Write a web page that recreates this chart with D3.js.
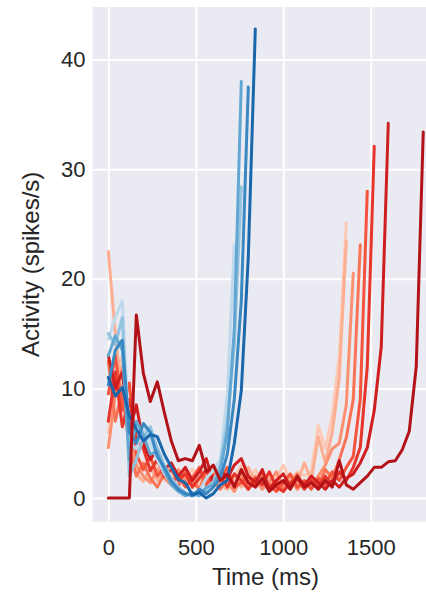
<!DOCTYPE html>
<html>
<head>
<meta charset="utf-8">
<script src="https://cdn.jsdelivr.net/npm/d3@7"></script>
<style>
  html, body { margin: 0; padding: 0; background: #ffffff; }
  svg { display: block; }
  text { font-family: "Liberation Sans", Arial, sans-serif; fill: #262626; }
</style>
</head>
<body>
<svg id="chart" width="426" height="592"></svg>
<script>
// Sample times (ms), shared by every trial; each trial uses the leading part.
const times = [0, 40, 80, 120, 160, 200, 240, 280, 320, 360, 400, 440, 480, 520, 560, 600,
  640, 680, 720, 760, 800, 840, 880, 920, 960, 1000, 1040, 1080, 1120, 1160, 1200, 1240,
  1280, 1320, 1360, 1400, 1440, 1480, 1520, 1560, 1600, 1640, 1680, 1720, 1760, 1800];

const xTicks = [0, 500, 1000, 1500];
const yTicks = [0, 10, 20, 30, 40];

// Short-interval trials (spikes/s)
const blue1 = [14.5, 16.5, 18.0, 5.0, 4.5, 6.5, 5.0, 3.5, 2.2, 1.5, 0.8, 0.5, 0.3, 0.6, 1.8, 2.5, 3.5, 9.5, 23.1];
const blue2 = [15.0, 14.0, 16.5, 2.0, 3.5, 5.5, 6.5, 4.5, 3.0, 1.8, 1.0, 0.5, 0.2, 0.3, 0.8, 1.5, 3.0, 7.0, 14.0, 28.4];
const blue3 = [13.0, 14.8, 13.5, 3.5, 7.0, 5.8, 4.0, 4.2, 2.5, 1.2, 0.6, 0.2, 0.5, 0.2, 1.0, 1.2, 2.5, 6.0, 15.5, 38.0];
const blue4 = [10.3, 13.5, 14.4, 6.0, 5.0, 6.8, 6.0, 3.8, 2.8, 1.5, 0.8, 0.4, 0.2, 0.8, 0.4, 1.0, 1.8, 4.0, 9.0, 18.0, 37.5];
const blue5 = [11.0, 9.3, 10.1, 7.5, 6.3, 5.2, 5.8, 5.6, 4.0, 2.8, 1.7, 1.4, 0.3, 0.5, 0.0, 0.4, 1.2, 1.6, 5.0, 9.8, 22.0, 42.8];

// Long-interval trials (spikes/s)
const red1 = [6.0, 11.0, 13.0, 7.0, 4.0, 2.5, 3.5, 2.8, 3.0, 2.0, 2.4, 1.8, 2.6, 1.4, 2.2, 1.0, 2.4, 1.2, 1.8, 3.0,
  1.6, 2.6, 1.4, 2.2, 1.8, 3.0, 1.6, 2.4, 2.0, 2.4, 6.6, 4.5, 7.5, 13.0, 25.1];
const red2 = [22.5, 15.0, 9.0, 5.0, 2.2, 1.5, 2.8, 1.6, 2.4, 3.0, 1.5, 2.4, 1.0, 2.0, 1.4, 2.8, 1.2, 0.8, 2.2, 1.0,
  2.8, 1.5, 0.8, 1.8, 1.2, 0.6, 2.0, 1.4, 3.2, 1.6, 5.6, 3.2, 6.0, 11.0, 23.4];
const red3 = [4.6, 9.5, 12.0, 6.0, 3.0, 2.0, 1.4, 2.6, 1.8, 1.2, 2.6, 1.6, 2.0, 0.8, 1.8, 1.0, 2.6, 1.4, 0.6, 1.8,
  1.2, 2.0, 0.8, 1.4, 2.4, 1.0, 1.6, 0.8, 1.4, 1.0, 2.0, 3.0, 4.5, 5.0, 8.5, 20.5];
const red4 = [12.5, 7.0, 10.0, 4.5, 2.0, 3.2, 1.8, 1.0, 2.2, 1.6, 1.0, 2.8, 1.4, 0.8, 2.4, 1.6, 0.8, 2.0, 1.2, 2.4,
  0.8, 1.6, 2.2, 1.0, 1.6, 0.7, 1.2, 2.2, 1.0, 1.6, 1.2, 2.6, 1.8, 3.5, 5.5, 9.0, 23.1];
const red5 = [9.5, 13.0, 8.0, 10.5, 4.0, 2.6, 3.8, 2.0, 2.8, 1.4, 2.0, 1.0, 1.8, 2.8, 1.2, 2.2, 1.6, 2.8, 1.0, 1.4,
  2.0, 1.0, 1.8, 1.2, 0.6, 1.4, 2.2, 1.0, 1.6, 0.8, 1.8, 1.2, 2.4, 1.6, 2.8, 3.8, 9.0, 28.0];
const red6 = [7.0, 11.5, 6.5, 9.0, 5.5, 4.5, 2.5, 3.5, 2.0, 2.6, 1.6, 2.2, 1.0, 1.8, 2.6, 1.2, 2.0, 1.0, 2.2, 1.6,
  0.8, 1.8, 1.2, 2.4, 1.0, 0.6, 1.4, 1.8, 0.8, 1.6, 1.0, 2.0, 1.2, 2.4, 1.6, 2.8, 4.6, 12.0, 32.1];
const red7 = [13.0, 10.0, 11.5, 6.0, 8.5, 5.0, 3.5, 4.5, 2.6, 3.2, 2.0, 2.8, 1.6, 2.4, 3.6, 1.4, 2.6, 1.8, 3.0, 3.6,
  2.0, 1.4, 2.6, 0.8, 1.6, 2.2, 1.0, 1.8, 1.2, 2.0, 1.4, 0.8, 1.6, 1.0, 1.8, 2.2, 3.2, 4.6, 8.0, 13.8, 34.2];
const red8 = [0, 0, 0, 0, 16.7, 11.4, 8.8, 10.6, 7.8, 5.2, 3.4, 3.6, 3.4, 4.8, 2.4, 3.0, 1.6, 2.2, 1.0, 2.6,
  1.4, 1.0, 1.8, 0.6, 1.2, 1.6, 0.8, 2.0, 1.0, 1.4, 0.8, 1.6, 1.0, 3.4, 1.2, 0.8, 1.4, 2.0, 2.8, 2.8,
  3.3, 3.4, 4.4, 6.1, 12.0, 33.4];

const blueTrials = [blue1, blue2, blue3, blue4, blue5];
const redTrials = [red1, red2, red3, red4, red5, red6, red7, red8];

// Sequential shades, light to dark
const blueShade = [0.27, 0.40, 0.53, 0.66, 0.79].map(d3.interpolateBlues);
const redShade = [0.20, 0.29, 0.38, 0.47, 0.56, 0.65, 0.74, 0.83].map(d3.interpolateReds);

const svg = d3.select("#chart");
const W = 426, H = 592;
const plot = { left: 92.6, right: 439, top: 7, bottom: 521.7 };

const x = d3.scaleLinear().domain([-90, 1890]).range([plot.left, plot.right]);
const y = d3.scaleLinear().domain([-2.16, 44.8]).range([plot.bottom, plot.top]);

svg.append("rect").attr("width", W).attr("height", H).attr("fill", "#ffffff");

svg.append("defs").append("clipPath").attr("id", "plotclip")
  .append("rect")
  .attr("x", plot.left).attr("y", plot.top)
  .attr("width", plot.right - plot.left).attr("height", plot.bottom - plot.top);

svg.append("rect")
  .attr("x", plot.left).attr("y", plot.top)
  .attr("width", plot.right - plot.left).attr("height", plot.bottom - plot.top)
  .attr("fill", "#eaeaf2");

// White grid
const gridX = svg.append("g")
  .attr("transform", `translate(0,${plot.bottom})`)
  .call(d3.axisBottom(x).tickValues(xTicks).tickSize(-(plot.bottom - plot.top)).tickFormat(""));
const gridY = svg.append("g")
  .attr("transform", `translate(${plot.left},0)`)
  .call(d3.axisLeft(y).tickValues(yTicks).tickSize(-(plot.right - plot.left)).tickFormat(""));
[gridX, gridY].forEach(g => {
  g.select(".domain").remove();
  g.selectAll(".tick line").attr("stroke", "#ffffff").attr("stroke-width", 2);
});

// Trial traces
const line = d3.line()
  .x((d, i) => x(times[i]))
  .y(d => y(d));

const traces = svg.append("g").attr("clip-path", "url(#plotclip)")
  .attr("fill", "none")
  .attr("stroke-width", 3)
  .attr("stroke-linejoin", "round")
  .attr("stroke-linecap", "round");

const drawList = [];
redTrials.slice(0, 7).forEach((v, i) => drawList.push({ v, c: redShade[i] }));
blueTrials.forEach((v, i) => drawList.push({ v, c: blueShade[i] }));
drawList.push({ v: redTrials[7], c: redShade[7] });

traces.selectAll("path")
  .data(drawList)
  .join("path")
  .attr("d", d => line(d.v))
  .attr("stroke", d => d.c);

// Tick labels
const xAxis = svg.append("g")
  .attr("transform", `translate(0,${plot.bottom})`)
  .call(d3.axisBottom(x).tickValues(xTicks).tickSize(0).tickPadding(17.5).tickFormat(d3.format("d")));
const yAxis = svg.append("g")
  .attr("transform", `translate(${plot.left},0)`)
  .call(d3.axisLeft(y).tickValues(yTicks).tickSize(0).tickPadding(7).tickFormat(d3.format("d")));
[xAxis, yAxis].forEach(g => {
  g.select(".domain").remove();
  g.selectAll("text")
    .attr("font-family", "'Liberation Sans', Arial, sans-serif")
    .attr("font-size", 22)
    .attr("fill", "#262626");
});

// Axis titles
svg.append("text")
  .attr("x", 265.5).attr("y", 585)
  .attr("text-anchor", "middle")
  .attr("font-size", 24)
  .text("Time (ms)");

svg.append("text")
  .attr("transform", `translate(39,${(plot.top + plot.bottom) / 2}) rotate(-90)`)
  .attr("text-anchor", "middle")
  .attr("font-size", 24)
  .text("Activity (spikes/s)");
</script>
</body>
</html>
